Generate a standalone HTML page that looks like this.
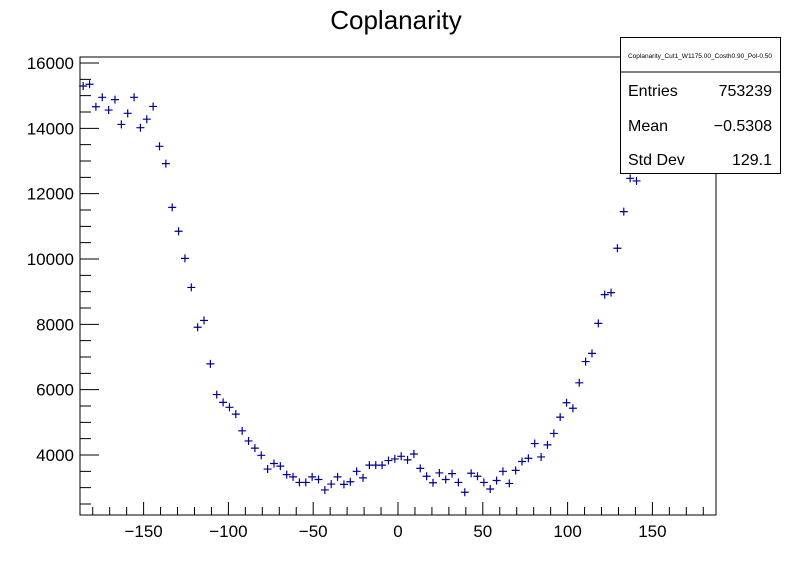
<!DOCTYPE html>
<html><head><meta charset="utf-8"><style>
html,body{margin:0;padding:0;background:#fff;}
svg text{font-family:"Liberation Sans",sans-serif;}
</style></head><body>
<svg id="chart" width="796" height="572" xmlns="http://www.w3.org/2000/svg">
<rect width="796" height="572" fill="#fff"/>
<text x="396" y="29" font-size="26" text-anchor="middle">Coplanarity</text>
<g id="marks"></g>
<rect x="80" y="57" width="636" height="458" fill="none" stroke="#000" stroke-width="1"/>
<g id="axes"></g>
<g>
<rect x="620.5" y="37.5" width="160" height="136" fill="#fff" stroke="#000"/>
<line x1="620.5" y1="72" x2="780.5" y2="72" stroke="#000"/>
<text x="700" y="58" font-size="6.5" text-anchor="middle">Coplanarity_Cut1_W1175.00_Costh0.90_Pol-0.50</text>
<text x="628" y="96" font-size="16">Entries</text>
<text x="772" y="96" font-size="16" text-anchor="end">753239</text>
<text x="628" y="131" font-size="16">Mean</text>
<text x="772" y="131" font-size="16" text-anchor="end">−0.5308</text>
<text x="628" y="165" font-size="16">Std Dev</text>
<text x="772" y="165" font-size="16" text-anchor="end">129.1</text>
</g>
</svg>
<script>
const binLow = -187.5;
const binWidth = 3.75;
const counts = [15296,15350,14660,14950,14560,14880,14120,14460,14950,14020,14280,14670,13450,12920,11580,10850,10020,9130,7910,8120,6790,5850,5610,5460,5250,4740,4430,4210,3990,3570,3740,3660,3400,3330,3160,3160,3330,3250,2930,3110,3330,3100,3180,3500,3300,3690,3690,3690,3830,3880,3960,3850,4030,3590,3350,3150,3450,3250,3430,3160,2860,3440,3350,3160,2960,3220,3500,3130,3530,3800,3900,4350,3940,4310,4660,5160,5600,5430,6210,6860,7110,8030,8910,8970,10330,11450,12470,12390,13000,13400,13700,14000,14200,14400,14600,14800,14900,15000,15100,15200];
const xTicks = [-150,-100,-50,0,50,100,150];
const yTicks = [4000,6000,8000,10000,12000,14000,16000];
const xMin=-187.5,xMax=187.5,yMin=2163,yMax=16184;
const L=80,R=716,T=57,B=515;
function sx(v){return L+(v-xMin)/(xMax-xMin)*(R-L);}
function sy(v){return B-(v-yMin)/(yMax-yMin)*(B-T);}
const NS="http://www.w3.org/2000/svg";
const marks=document.getElementById('marks');
counts.forEach((c,i)=>{
  const cx=sx(binLow+binWidth*(i+0.5)), cy=sy(c);
  const g=document.createElementNS(NS,'path');
  g.setAttribute('d',`M${cx-4},${cy}H${cx+4}M${cx},${cy-4}V${cy+4}`);
  g.setAttribute('stroke','#000099');g.setAttribute('stroke-width','1.2');g.setAttribute('fill','none');
  
  
  marks.appendChild(g);
});
const ax=document.getElementById('axes');
let d='';
for(let v=-180;v<=180;v+=10){const x=sx(v);const maj=v%50===0;d+=`M${x},${B}V${B-(maj?13:8)}`;}
for(let v=2500;v<=16000;v+=500){const y=sy(v);const maj=v%2000===0;d+=`M${L},${y}H${L+(maj?19:11)}`;}
const tp=document.createElementNS(NS,'path');
tp.setAttribute('d',d);tp.setAttribute('stroke','#000');tp.setAttribute('fill','none');


ax.appendChild(tp);
xTicks.forEach(v=>{
  const t=document.createElementNS(NS,'text');
  t.setAttribute('x',sx(v));t.setAttribute('y',537);t.setAttribute('font-size','17');t.setAttribute('text-anchor','middle');
  t.textContent=v<0?'\u2212'+(-v):String(v);
  
  
  ax.appendChild(t);
});
yTicks.forEach(v=>{
  const t=document.createElementNS(NS,'text');
  t.setAttribute('x',74);t.setAttribute('y',sy(v)+6);t.setAttribute('font-size','17');t.setAttribute('text-anchor','end');
  t.textContent=String(v);
  
  
  ax.appendChild(t);
});
</script>
</body></html>
